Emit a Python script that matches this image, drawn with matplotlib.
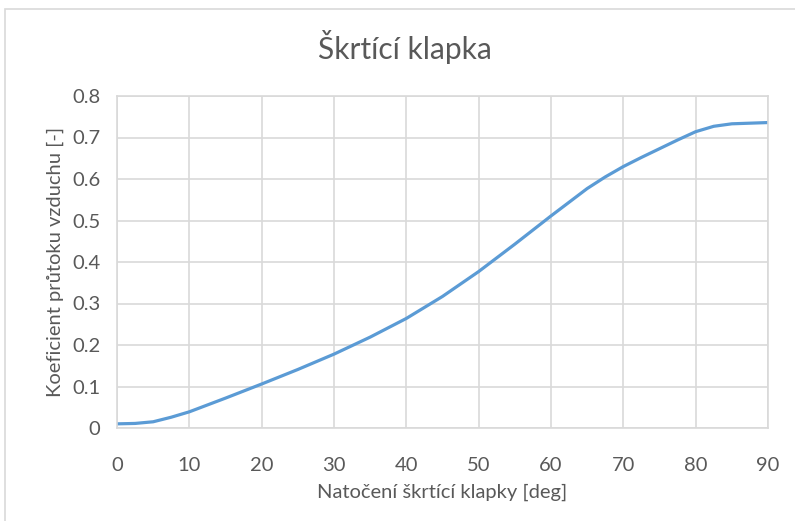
import matplotlib.pyplot as plt
from matplotlib.patches import Rectangle

# data (deg, coefficient)
uhel = [0, 2.5, 5, 7.5, 10, 15, 20, 25, 30, 35, 40, 45, 50, 55, 60, 65, 67.5, 70, 72.5,
        75, 77.5, 80, 82.5, 85, 90]
koef = [0.010, 0.011, 0.015, 0.026, 0.039, 0.072, 0.106, 0.141, 0.178, 0.219, 0.264, 0.317,
        0.377, 0.443, 0.511, 0.577, 0.605, 0.630, 0.652, 0.673, 0.694, 0.714, 0.727, 0.733, 0.736]
xticks = [0, 10, 20, 30, 40, 50, 60, 70, 80, 90]
yticks = [0, 0.1, 0.2, 0.3, 0.4, 0.5, 0.6, 0.7, 0.8]

plt.rcParams['font.family'] = ['Lato', 'DejaVu Sans']
seda = '#595959'

fig = plt.figure(figsize=(7.95, 5.21), dpi=100)
# chart frame
fig.patches.append(Rectangle((5 / 795, -0.01), 1.0, 1 - 9 / 521 + 0.01, transform=fig.transFigure,
                             fill=False, edgecolor='#d9d9d9', linewidth=1.2))

ax = fig.add_axes([117 / 795, 1 - 428 / 521, (768 - 117) / 795, (428 - 96) / 521])
ax.plot(uhel, koef, color='#5B9BD5', linewidth=2.3, solid_capstyle='round', solid_joinstyle='round')

ax.set_xlim(0, 90)
ax.set_ylim(0, 0.8)
ax.set_xticks(xticks)
ax.set_yticks(yticks)
ax.set_xticklabels([str(t) for t in xticks])
ax.set_yticklabels(['0'] + ['%.1f' % t for t in yticks[1:]])
ax.grid(True, color='#d9d9d9', linewidth=1.2)
ax.set_axisbelow(True)
for s in ax.spines.values():
    s.set_color('#d9d9d9')
    s.set_linewidth(1.2)
ax.tick_params(length=0, labelsize=14.5, labelcolor=seda)
ax.tick_params(axis='x', pad=21)
ax.tick_params(axis='y', pad=12)

ax.set_xlabel('Natočení škrtící klapky [deg]', fontsize=14.5, color=seda, labelpad=7)
ax.set_ylabel('Koeficient průtoku vzduchu [-]', fontsize=14.5, color=seda, labelpad=6)
fig.text(405 / 795, 1 - 47 / 521, 'Škrtící klapka', fontsize=21.5, color=seda,
         ha='center', va='center')

fig.savefig('out.png', dpi=100)
